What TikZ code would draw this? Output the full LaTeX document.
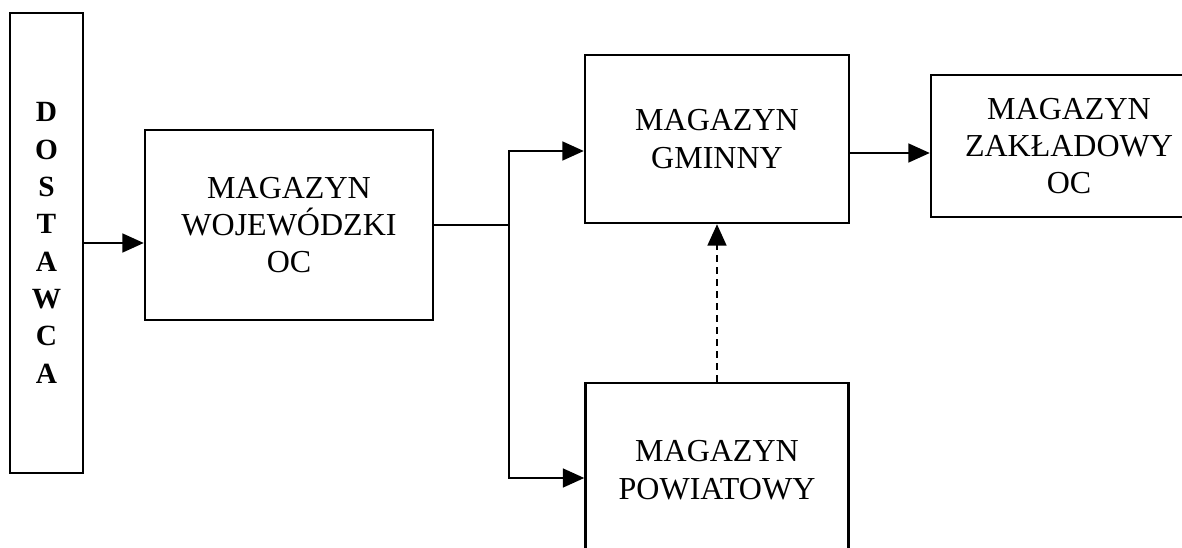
\documentclass[tikz,border=0pt]{standalone}
\usepackage{fontspec}
\setmainfont{Liberation Serif}
\usetikzlibrary{calc, positioning}
\usetikzlibrary{arrows.meta}

\begin{document}
\begin{tikzpicture}[x=0.75pt,y=-0.75pt,
    box/.style={draw,line width=1.8pt,rectangle,align=center,inner sep=0pt,
      font=\fontsize{24}{28}\selectfont},
    arr/.style={line width=1.8pt,-{Triangle[length=16pt,width=14pt]}}]
\clip (0,0) rectangle (1182,548);

% Supplier and storage boxes
\node[box,minimum width=54.75pt,minimum height=345pt,
    font=\bfseries\fontsize{22}{28}\selectfont] (dost) at (46.5,243)
    {D\\O\\S\\T\\A\\W\\C\\A};
\node[box,minimum width=216pt,minimum height=142.5pt] (woj) at (289,225)
    {MAGAZYN\\WOJEWÓDZKI\\OC};
\node[box,minimum width=198pt,minimum height=126pt] (gmin) at (717,139)
    {MAGAZYN\\GMINNY};
\node[box,minimum width=207pt,minimum height=106.5pt] (zakl) at (1069,146)
    {MAGAZYN\\ZAKŁADOWY\\OC};
\node[box,minimum width=197.25pt,minimum height=130.5pt] (powiat) at (717,470)
    {MAGAZYN\\POWIATOWY};

% Branch point after the voivodeship store
\coordinate (split) at (509,225);

% Connectors
\draw[arr] (dost.east) -- (woj.west |- dost.east);
\draw[line width=1.8pt] (woj.east) -- (split);
\draw[arr] (split) |- ($(gmin.west)+(0,12)$);
\draw[arr] (split) |- ($(powiat.west)+(0,8)$);
\draw[arr] ($(gmin.east)+(0,14)$) -- ($(zakl.west)+(0,7)$);
\draw[arr,dash pattern=on 5pt off 4pt] (powiat.north) -- (gmin.south);
\end{tikzpicture}
\end{document}
